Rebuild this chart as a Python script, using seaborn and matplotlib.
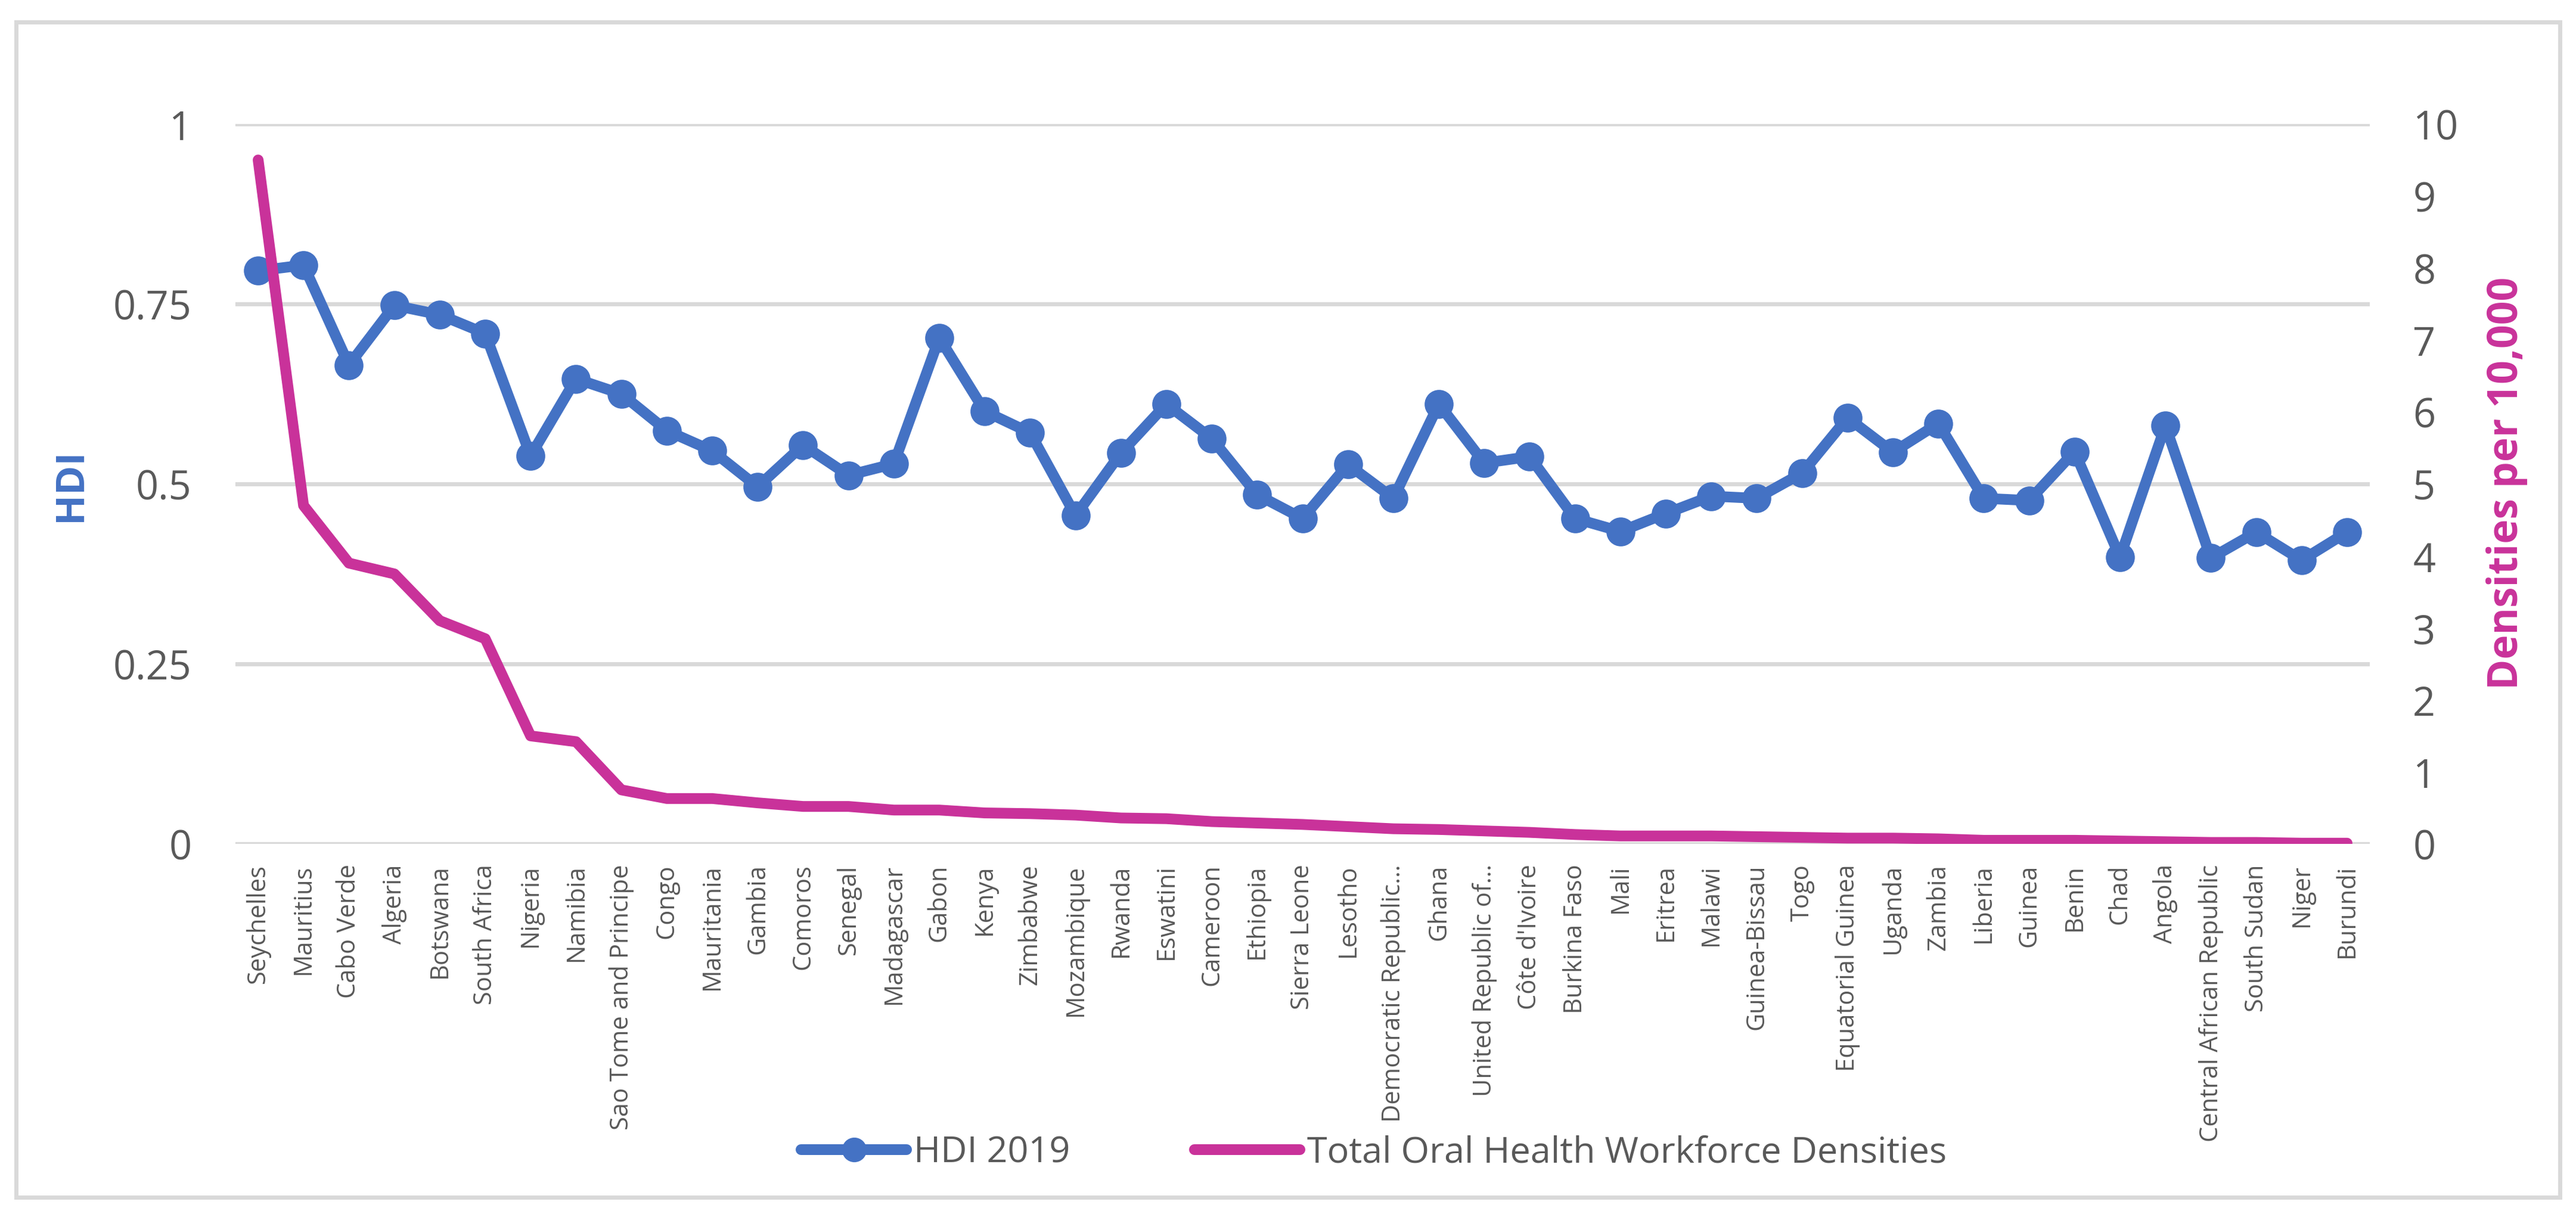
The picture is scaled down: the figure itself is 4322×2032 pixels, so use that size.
import matplotlib
matplotlib.use("Agg")
import matplotlib.pyplot as plt
import seaborn as sns
import pandas as pd
import numpy as np
from matplotlib.patches import Rectangle

countries = ["Seychelles", "Mauritius", "Cabo Verde", "Algeria", "Botswana", "South Africa",
             "Nigeria", "Namibia", "Sao Tome and Principe", "Congo", "Mauritania", "Gambia",
             "Comoros", "Senegal", "Madagascar", "Gabon", "Kenya", "Zimbabwe", "Mozambique",
             "Rwanda", "Eswatini", "Cameroon", "Ethiopia", "Sierra Leone", "Lesotho",
             "Democratic Republic…", "Ghana", "United Republic of…", "Côte d'Ivoire",
             "Burkina Faso", "Mali", "Eritrea", "Malawi", "Guinea-Bissau", "Togo",
             "Equatorial Guinea", "Uganda", "Zambia", "Liberia", "Guinea", "Benin", "Chad",
             "Angola", "Central African Republic", "South Sudan", "Niger", "Burundi"]

hdi_2019 = [0.796, 0.804, 0.665, 0.748, 0.735, 0.709, 0.539, 0.646, 0.625, 0.574, 0.546, 0.496,
            0.554, 0.512, 0.528, 0.703, 0.601, 0.571, 0.456, 0.543, 0.611, 0.563, 0.485, 0.452,
            0.527, 0.480, 0.611, 0.529, 0.538, 0.452, 0.434, 0.459, 0.483, 0.480, 0.515,
            0.592, 0.544, 0.584, 0.480, 0.477, 0.545, 0.398, 0.581, 0.397, 0.433, 0.394, 0.433]

densities = [9.5, 4.7, 3.9, 3.75, 3.1, 2.85, 1.5, 1.42, 0.75, 0.63, 0.63, 0.57,
             0.52, 0.52, 0.47, 0.47, 0.43, 0.42, 0.40, 0.36, 0.35, 0.31, 0.29, 0.27,
             0.24, 0.21, 0.20, 0.18, 0.16, 0.13, 0.11, 0.11, 0.11, 0.10, 0.09,
             0.08, 0.08, 0.07, 0.05, 0.05, 0.05, 0.04, 0.03, 0.02, 0.02, 0.01, 0.01]

left_ticks = [0, 0.25, 0.5, 0.75, 1]
left_tick_labels = ["0", "0.25", "0.5", "0.75", "1"]
right_ticks = list(range(0, 11))

BLUE = "#4472C4"
MAGENTA = "#C9329A"
GRID = "#D9D9D9"
TXT = "#595959"

sns.set_theme(style="white")
plt.rcParams["font.family"] = ["Open Sans", "DejaVu Sans"]

df = pd.DataFrame({"pos": np.arange(len(countries)), "country": countries,
                   "hdi": hdi_2019, "dens": densities})

W, H = 4322, 2033
fig = plt.figure(figsize=(W / 100, H / 100), dpi=100)
ax = fig.add_axes([395 / W, 1 - 1417 / H, (3976 - 395) / W, (1417 - 209) / H])
ax2 = ax.twinx()

sns.lineplot(data=df, x="pos", y="hdi", ax=ax, color=BLUE, linewidth=13, marker="o",
             markersize=35, markeredgewidth=0, sort=False, legend=False, zorder=3)
sns.lineplot(data=df, x="pos", y="dens", ax=ax2, color=MAGENTA, linewidth=13,
             sort=False, legend=False, zorder=4)

ax.set_xlim(-0.5, len(countries) - 0.5)
ax.set_ylim(0, 1)
ax2.set_ylim(0, 10)
ax.set_yticks(left_ticks)
ax.set_yticklabels(left_tick_labels)
ax2.set_yticks(right_ticks)
ax.set_xticks(df["pos"])
ax.set_xticklabels(countries, rotation=90, ha="center", va="top", fontsize=30, color=TXT)

ax.grid(axis="y", color=GRID, linewidth=5)
ax.grid(axis="x", visible=False)
ax2.grid(False)
ax.set_axisbelow(True)
for a in (ax, ax2):
    for s in a.spines.values():
        s.set_visible(False)
ax.tick_params(axis="x", length=0, pad=24)
ax.tick_params(axis="y", length=0, pad=53, labelsize=48, labelcolor=TXT)
ax2.tick_params(axis="y", length=0, pad=52, labelsize=48, labelcolor=TXT)

ax.set_xlabel("")
ax.set_ylabel("")
ax2.set_ylabel("")
fig.text(119 / W, 1 - 814 / H, "HDI", fontsize=48, fontweight="bold", color=BLUE,
         rotation=90, ha="center", va="center")
fig.text(4206 / W, 1 - 811 / H, "Densities per 10,000", fontsize=50, fontweight="bold",
         color=MAGENTA, rotation=90, ha="center", va="center")

h1 = ax.get_lines()[0]
h2 = ax2.get_lines()[0]
fig.legend([h1, h2], ["HDI 2019", "Total Oral Health Workforce Densities"],
           loc="center", bbox_to_anchor=(2305 / W, 1 - 1935 / H), ncol=2,
           frameon=False, fontsize=44, handlelength=2.9, handletextpad=0.2,
           columnspacing=3.4, labelcolor=TXT, markerscale=0.85)

fig.patches.append(Rectangle((27 / W, 1 - 2010 / H), (4295 - 27) / W,
                             (2010 - 38) / H, transform=fig.transFigure, fill=False,
                             edgecolor=GRID, linewidth=5))

fig.savefig("out.png", dpi=100, facecolor="white")
